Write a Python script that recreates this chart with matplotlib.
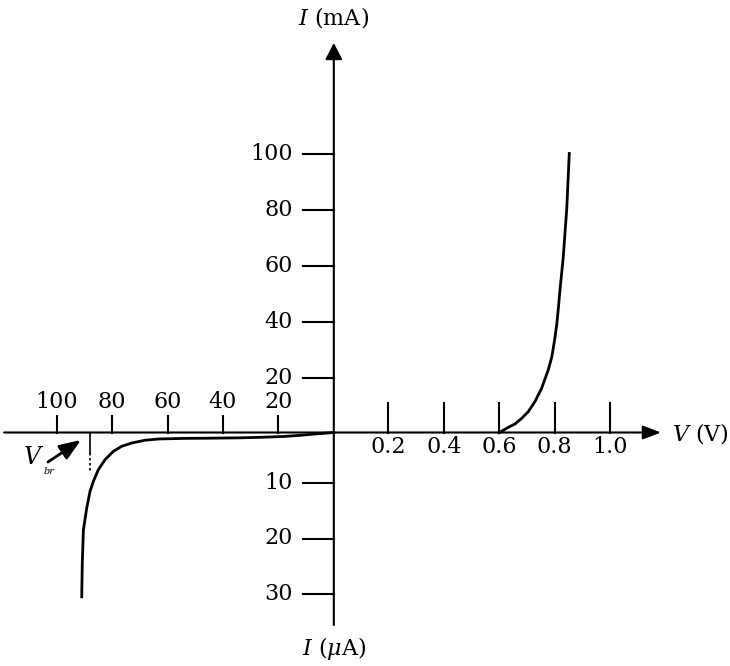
import numpy as np
import matplotlib
matplotlib.use('Agg')
import matplotlib.pyplot as plt

plt.rcParams['font.family'] = ['DejaVu Serif']
plt.rcParams['mathtext.fontset'] = 'dejavuserif'

# forward bias (V in volts, I in mA)
fwd_v = [0.600, 0.633, 0.657, 0.681, 0.705, 0.729, 0.753, 0.777, 0.790, 0.800,
         0.808, 0.814, 0.819, 0.831, 0.844, 0.853]
fwd_i = [0.3, 2.2, 3.4, 5.4, 7.8, 11.4, 16.1, 22.7, 27.4, 33.4,
         39.1, 45.2, 50.9, 62.7, 80.5, 100.0]

# reverse bias (V in volts, I in uA, both as magnitudes)
rev_v = [0.0, 6.8, 12.2, 18.3, 26.6, 33.9, 45.7, 53.7, 63.4, 68.2, 73.0, 76.6,
         79.6, 82.6, 85.0, 86.8, 88.0, 89.2, 89.8, 90.4, 90.8, 91.0]
rev_i = [0.9, 1.17, 1.41, 1.62, 1.77, 1.86, 1.93, 1.96, 2.07, 2.3, 2.8, 3.4,
         4.3, 5.8, 7.6, 9.7, 11.5, 14.5, 16.5, 18.5, 24.4, 30.5]

v_br = 88.0

fwd_ticks = [0.2, 0.4, 0.6, 0.8, 1.0]
fwd_labels = ['0.2', '0.4', '0.6', '0.8', '1.0']
rev_ticks = [100, 80, 60, 40, 20]
ma_ticks = [20, 40, 60, 80, 100]
ua_ticks = [10, 20, 30]

# scales of the four quadrants (figure pixels)
X0, Y0 = 333.8, 432.5


def x_fwd(v):
    return 333.0 + 277.0 * np.asarray(v)


def x_rev(v):
    return X0 - 2.77 * np.asarray(v)


def y_ma(i):
    return 433.5 - 2.8 * np.asarray(i)


def y_ua(i):
    return 427.5 + 5.55 * np.asarray(i)


fig = plt.figure(figsize=(7.3, 6.66), dpi=100)
ax = fig.add_axes([0, 0, 1, 1])
ax.set_xlim(0, 730)
ax.set_ylim(666, 0)
ax.axis('off')

lw = 1.5
fs = 16

# axes with arrows
ax.annotate('', xy=(661, Y0), xytext=(4, Y0),
            arrowprops=dict(arrowstyle='-|>,head_length=1.1,head_width=0.42',
                            mutation_scale=10, lw=lw, color='black', shrinkA=0, shrinkB=0))
ax.annotate('', xy=(X0, 43), xytext=(X0, 625),
            arrowprops=dict(arrowstyle='-|>,head_length=1.0,head_width=0.52',
                            mutation_scale=10, lw=lw, color='black', shrinkA=0, shrinkB=0))

# forward voltage ticks
for t, lab in zip(fwd_ticks, fwd_labels):
    ax.plot([x_fwd(t), x_fwd(t)], [Y0, Y0 - 30], color='black', lw=lw)
    ax.text(x_fwd(t), 447, lab, ha='center', va='center', fontsize=fs)

# reverse voltage ticks
for t in rev_ticks:
    ax.plot([x_rev(t), x_rev(t)], [Y0, Y0 - 17], color='black', lw=lw)
    ax.text(x_rev(t), 402, str(t), ha='center', va='center', fontsize=fs)

# mA ticks
for t in ma_ticks:
    ax.plot([303, X0], [y_ma(t), y_ma(t)], color='black', lw=lw)
    ax.text(293, y_ma(t), str(t), ha='right', va='center', fontsize=fs)

# uA ticks
for t in ua_ticks:
    ax.plot([303, X0], [y_ua(t), y_ua(t)], color='black', lw=lw)
    ax.text(293, y_ua(t), str(t), ha='right', va='center', fontsize=fs)

# curves
ax.plot(x_fwd(fwd_v), y_ma(fwd_i), color='black', lw=2.0, solid_joinstyle='round')
ax.plot(x_rev(rev_v), y_ua(rev_i), color='black', lw=2.0, solid_joinstyle='round')

# breakdown marker
ax.plot([x_rev(v_br), x_rev(v_br)], [Y0, 453], color='black', lw=1.2)
ax.plot([x_rev(v_br), x_rev(v_br)], [453, 472], color='black', lw=1.2, ls=(0, (1.5, 1.5)))
ax.annotate('', xy=(81, 440), xytext=(48, 462),
            arrowprops=dict(arrowstyle='-|>,head_length=1.3,head_width=0.5',
                            mutation_scale=10, lw=2.0, color='black', shrinkA=0, shrinkB=0))
ax.text(23, 458, r'$V$', ha='left', va='center', fontsize=17)
ax.text(44, 471, 'br', ha='left', va='center', fontsize=7, style='italic')

# axis titles
ax.text(X0, 17, r'$I$ (mA)', ha='center', va='center', fontsize=16)
ax.text(700, 434, r'$V$ (V)', ha='center', va='center', fontsize=16)
ax.text(X0, 648, r'$I$ ($\mu$A)', ha='center', va='center', fontsize=16)

fig.savefig('out.png', dpi=100)
